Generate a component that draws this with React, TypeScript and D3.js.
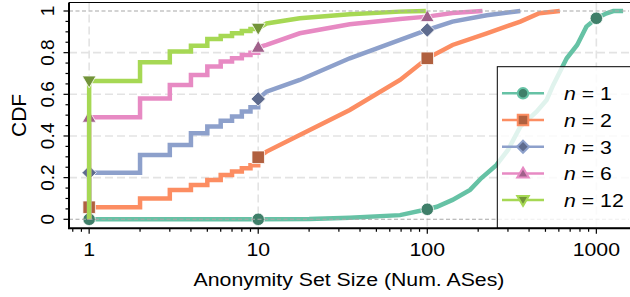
import React from 'react';
import * as d3 from 'd3';

// values at x = 1..10 (step part) then [x, cdf] points beyond 10
const steps1 = [0, 0, 0, 0, 0, 0, 0, 0, 0, 0];
const tail1 = [[20, 0.002], [34.8, 0.008], [69, 0.02], [100, 0.048], [114, 0.06], [141, 0.093], [179, 0.141], [209, 0.198], [256, 0.26], [300, 0.333], [355, 0.445], [443, 0.517], [508, 0.573], [556, 0.645], [668, 0.773], [770, 0.837], [873, 0.925], [1000, 0.965], [1150, 0.989], [1260, 1.0], [1440, 1.0]];
const steps2 = [0.058, 0.1, 0.141, 0.165, 0.189, 0.213, 0.229, 0.245, 0.26, 0.298];
const tail2 = [[11.2, 0.325], [17.6, 0.405], [34.8, 0.525], [69, 0.669], [100, 0.773], [141, 0.837], [225, 0.893], [355, 0.949], [460, 0.989], [608, 1.0]];
const steps3 = [0.224, 0.309, 0.357, 0.413, 0.445, 0.473, 0.493, 0.517, 0.538, 0.578];
const tail3 = [[11.2, 0.613], [17.6, 0.669], [34.8, 0.773], [69, 0.861], [100, 0.909], [141, 0.949], [225, 0.98], [355, 1.0]];
const steps6 = [0.49, 0.58, 0.645, 0.693, 0.733, 0.757, 0.773, 0.789, 0.8, 0.826];
const tail6 = [[11.2, 0.837], [17.6, 0.893], [34.8, 0.936], [69, 0.962], [100, 0.973], [141, 0.99], [212, 1.0]];
const steps12 = [0.664, 0.754, 0.805, 0.833, 0.866, 0.88, 0.893, 0.904, 0.913, 0.917];
const tail12 = [[11.2, 0.94], [17.6, 0.965], [34.8, 0.984], [69, 0.997], [98, 1.0]];

const labels = ['1', '2', '3', '6', '12'];
const lineColors = ['#66c2a5', '#fc8d62', '#8da0cb', '#e78ac3', '#a6d854'];
const markColors = ['#3f7f69', '#b0603f', '#5e6b8e', '#a0608a', '#729339'];
const symbols = ['circle', 'square', 'diamond', 'up', 'down'];
const decades = [1, 10, 100, 1000];
const yMajor = [0, 0.2, 0.4, 0.6, 0.8, 1];
const yTickLabels = ['0', '0.2', '0.4', '0.6', '0.8', '1'];

const series = [
  { steps: steps1, tail: tail1 },
  { steps: steps2, tail: tail2 },
  { steps: steps3, tail: tail3 },
  { steps: steps6, tail: tail6 },
  { steps: steps12, tail: tail12 },
];

const W = 630, H = 297;
const left = 69, right = 629, top = 2.5, bottom = 228.3;
const font = 'Liberation Sans, Arial, Helvetica, sans-serif';
const sx = 1.12; // the figure is a bit wider than tall, text too

const x = d3.scaleLog().domain([0.76, 1560]).range([left, right]);
const y = d3.scaleLinear().domain([0, 1]).range([219.3, 11]);

function markerPath(kind: string, size: number) {
  const s = size / 2;
  if (kind === 'circle') return d3.symbol(d3.symbolCircle, Math.PI * s * s)() as string;
  if (kind === 'square') return `M${-s},${-s}H${s}V${s}H${-s}Z`;
  if (kind === 'diamond') return `M0,${-s * 1.15}L${s * 1.15},0L0,${s * 1.15}L${-s * 1.15},0Z`;
  if (kind === 'up') return `M0,${-s * 1.1}L${s * 1.1},${s * 0.8}L${-s * 1.1},${s * 0.8}Z`;
  return `M0,${s * 1.1}L${s * 1.1},${-s * 0.8}L${-s * 1.1},${-s * 0.8}Z`;
}

function vertices(steps: number[], tail: number[][]) {
  const pts: [number, number][] = [[1, 0]];
  steps.forEach((v, i) => {
    if (i > 0) pts.push([i + 1, steps[i - 1]]);
    pts.push([i + 1, v]);
  });
  tail.forEach((p) => pts.push([p[0], p[1]]));
  return pts;
}

function valueAt(steps: number[], tail: number[][], d: number) {
  if (d <= 10) return steps[d - 1];
  const p = tail.find((t) => t[0] === d);
  return p ? p[1] : null;
}

const line = d3.line<[number, number]>().x((d) => x(d[0])).y((d) => y(d[1]));

export default function App() {
  const xMinor: number[] = [0.8, 0.9];
  [1, 10, 100, 1000].forEach((dec) => {
    for (let k = 2; k <= 9; k++) if (dec * k < 1560) xMinor.push(dec * k);
  });
  const yMinor = d3.range(0, 1.0001, 0.05).filter((v) => Math.round(v * 100) % 20 !== 0);
  const legTop = 66.7, legLeft = 497.3, rowH = 26.7, row0 = 93.3;

  return (
    <svg width={W} height={H} style={{ position: 'absolute', left: 0, top: 0 }}>
      <defs>
        <clipPath id="plot">
          <rect x={left} y={top} width={right - left} height={bottom - top} />
        </clipPath>
      </defs>
      <rect width={W} height={H} fill="#fff" />
      {/* grid */}
      <g stroke="#e3e3e3" strokeWidth={1.6} strokeDasharray="8,4">
        {decades.map((d) => (
          <line key={d} x1={x(d)} x2={x(d)} y1={top} y2={bottom} />
        ))}
        {yMajor.slice(1, 5).map((v) => (
          <line key={v} x1={left} x2={right} y1={y(v)} y2={y(v)} />
        ))}
      </g>
      {/* curves */}
      <g clipPath="url(#plot)">
        {series.map((s, i) => (
          <g key={i}>
            <path d={line(vertices(s.steps, s.tail)) as string} fill="none" stroke={lineColors[i]} strokeWidth={4.5} strokeLinejoin="miter" />
            {decades.map((d) => {
              const v = valueAt(s.steps, s.tail, d);
              if (v === null || v === undefined) return null;
              return (
                <path key={d} d={markerPath(symbols[i], 12.5)} transform={`translate(${x(d)},${y(v)})`} fill={markColors[i]} stroke="#fff" strokeWidth={0.8} />
              );
            })}
          </g>
        ))}
        {[0, 1].map((v) => (
          <line key={v} x1={left} x2={right} y1={y(v)} y2={y(v)} stroke="#a8a8a8" strokeWidth={1.1} strokeDasharray="4,2.5" />
        ))}
      </g>
      {/* legend */}
      <rect x={legLeft} y={legTop} width={right + 5 - legLeft} height={bottom - legTop} fill="#fff" fillOpacity={0.8} stroke="#000" strokeWidth={1} />
      {labels.map((lab, i) => {
        const cy = row0 + i * rowH;
        return (
          <g key={lab}>
            <line x1={502} x2={544} y1={cy} y2={cy} stroke={lineColors[i]} strokeWidth={2.5} />
            <path d={markerPath(symbols[i], 10.5)} transform={`translate(523,${cy})`} fill={markColors[i]} stroke={lineColors[i]} strokeWidth={2} />
            <text transform={`translate(564,${cy + 7}) scale(${sx},1)`} fontFamily={font} fontSize={19} fill="#000">
              <tspan fontStyle="italic">n</tspan>
              <tspan> = {lab}</tspan>
            </text>
          </g>
        );
      })}
      {/* axes */}
      <line x1={left} x2={right + 2} y1={top} y2={top} stroke="#000" strokeWidth={1.2} />
      <line x1={left} x2={left} y1={top} y2={bottom} stroke="#000" strokeWidth={2} />
      <line x1={left - 1} x2={right + 2} y1={bottom} y2={bottom} stroke="#000" strokeWidth={2} />
      <g stroke="#000" strokeWidth={1.2}>
        {decades.map((d) => (
          <line key={d} x1={x(d)} x2={x(d)} y1={bottom} y2={bottom + 5.5} />
        ))}
        {xMinor.map((d) => (
          <line key={d} x1={x(d)} x2={x(d)} y1={bottom} y2={bottom + 3.5} />
        ))}
        {yMajor.map((v) => (
          <line key={v} x1={left} x2={left - 5.5} y1={y(v)} y2={y(v)} />
        ))}
        {yMinor.map((v) => (
          <line key={v} x1={left} x2={left - 3.5} y1={y(v)} y2={y(v)} />
        ))}
      </g>
      <g fontFamily={font} fontSize={19} fill="#000">
        {decades.map((d) => (
          <text key={d} transform={`translate(${x(d)},255.5) scale(${sx},1)`} textAnchor="middle">{d}</text>
        ))}
        {yMajor.map((v, i) => (
          <text key={v} transform={`translate(54,${y(v)}) rotate(-90)`} textAnchor="middle" fontSize={19}>{yTickLabels[i]}</text>
        ))}
        <text transform={`translate(26,${(top + bottom) / 2}) rotate(-90)`} textAnchor="middle" fontSize={21}>CDF</text>
        <text transform={`translate(${(left + right) / 2},285.5) scale(${sx},1)`} textAnchor="middle">Anonymity Set Size (Num. ASes)</text>
      </g>
    </svg>
  );
}
